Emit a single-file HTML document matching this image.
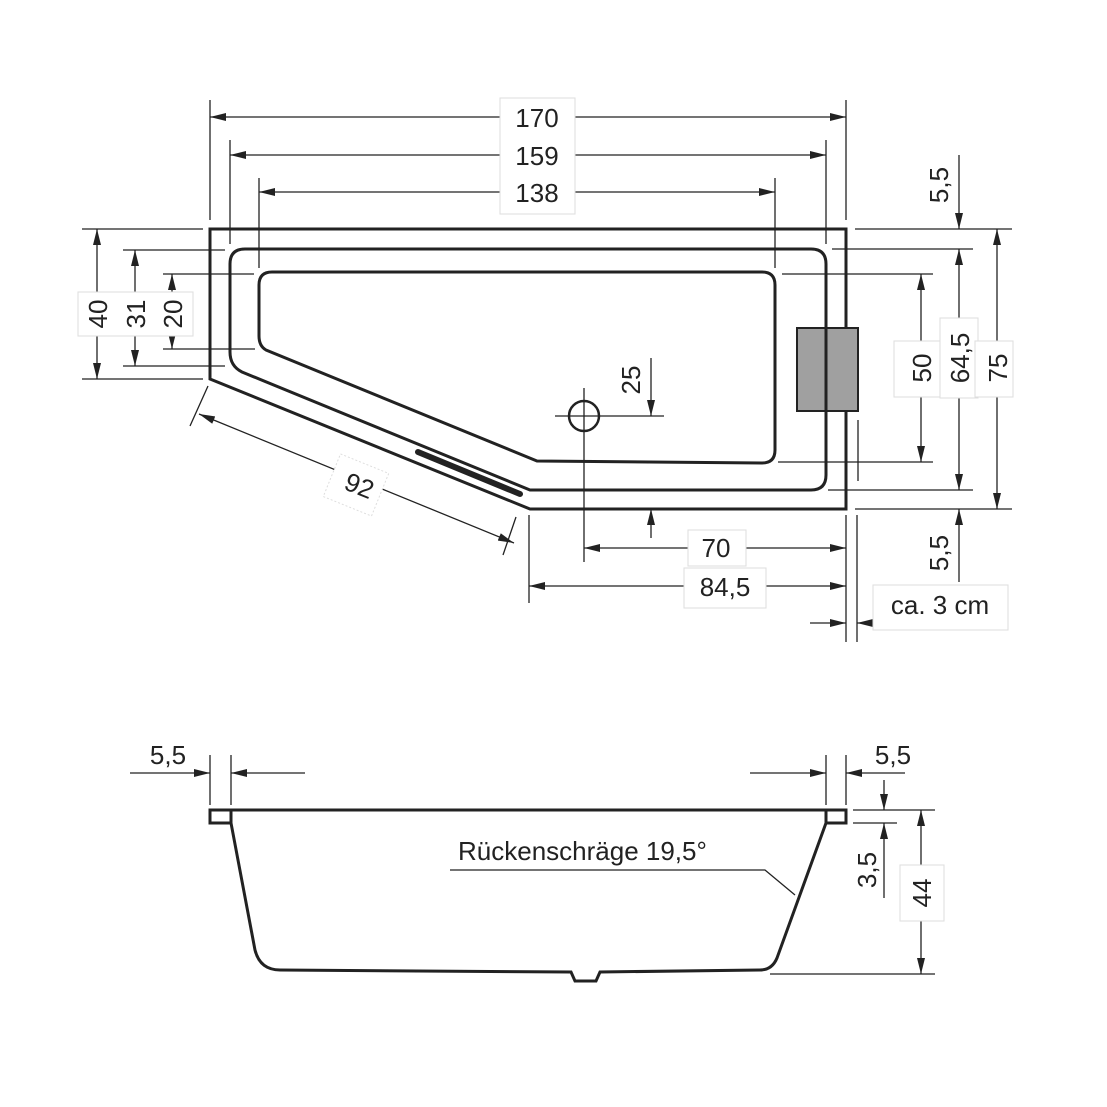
<!DOCTYPE html>
<html><head><meta charset="utf-8"><style>
html,body{margin:0;padding:0;background:#fff;}
svg{display:block;}
text{font-family:"Liberation Sans",sans-serif;font-size:26px;fill:#222;}
</style></head><body>
<svg width="1107" height="1107" viewBox="0 0 1107 1107" xmlns="http://www.w3.org/2000/svg">
<defs>
<marker id="a" viewBox="0 0 16 8" refX="16" refY="4" markerWidth="16" markerHeight="8" markerUnits="userSpaceOnUse" orient="auto"><path d="M0,0 L16,4 L0,8 z" fill="#222"/></marker>
<marker id="b" viewBox="0 0 16 8" refX="0" refY="4" markerWidth="16" markerHeight="8" markerUnits="userSpaceOnUse" orient="auto"><path d="M16,0 L0,4 L16,8 z" fill="#222"/></marker>
</defs>
<g fill="none" stroke="#222">
<!-- top view outlines -->
<path d="M210,229 L846,229 L846,509 L530,509 L210,379 Z" stroke-width="3"/>
<path d="M245,249 L811,249 Q826,249 826,264 L826,475 Q826,490 811,490 L530,490 L242,372 Q230,366 230,352 L230,264 Q230,249 245,249 Z" stroke-width="3"/>
<path d="M272,272 L762,272 Q775,272 775,285 L775,450 Q775,463 762,463 L537,461 L266,350 Q259,346 259,336 L259,285 Q259,272 272,272 Z" stroke-width="3"/>
<line x1="418" y1="452" x2="520" y2="494" stroke-width="6" stroke-linecap="round"/>
<rect x="797" y="328" width="61" height="83" fill="#a0a0a0" stroke-width="2"/>
<line x1="826" y1="328" x2="826" y2="411" stroke-width="3"/>
<circle cx="584" cy="416" r="15" stroke-width="2.5"/>
<line x1="555" y1="416" x2="664" y2="416" stroke-width="1.3"/>
<line x1="584" y1="388" x2="584" y2="562" stroke-width="1.3"/>
<g stroke-width="1.3">
<!-- top ext lines -->
<line x1="210" y1="100" x2="210" y2="220"/><line x1="846" y1="100" x2="846" y2="220"/>
<line x1="230" y1="140" x2="230" y2="244"/><line x1="826" y1="140" x2="826" y2="244"/>
<line x1="259" y1="178" x2="259" y2="268"/><line x1="775" y1="178" x2="775" y2="268"/>
<line x1="210" y1="117" x2="846" y2="117" marker-start="url(#b)" marker-end="url(#a)"/>
<line x1="230" y1="155" x2="826" y2="155" marker-start="url(#b)" marker-end="url(#a)"/>
<line x1="259" y1="192" x2="775" y2="192" marker-start="url(#b)" marker-end="url(#a)"/>
<!-- left -->
<line x1="82" y1="229" x2="203" y2="229"/><line x1="82" y1="379" x2="203" y2="379"/>
<line x1="123" y1="250" x2="225" y2="250"/><line x1="123" y1="366" x2="225" y2="366"/>
<line x1="163" y1="274" x2="254" y2="274"/><line x1="163" y1="349" x2="255" y2="349"/>
<line x1="97" y1="229" x2="97" y2="379" marker-start="url(#b)" marker-end="url(#a)"/>
<line x1="135" y1="250" x2="135" y2="366" marker-start="url(#b)" marker-end="url(#a)"/>
<line x1="172" y1="274" x2="172" y2="349" marker-start="url(#b)" marker-end="url(#a)"/>
<!-- right -->
<line x1="855" y1="229" x2="1012" y2="229"/><line x1="855" y1="509" x2="1012" y2="509"/>
<line x1="832" y1="249" x2="973" y2="249"/><line x1="828" y1="490" x2="973" y2="490"/>
<line x1="782" y1="274" x2="933" y2="274"/><line x1="778" y1="462" x2="933" y2="462"/>
<line x1="858" y1="420" x2="858" y2="481"/>
<line x1="997" y1="229" x2="997" y2="509" marker-start="url(#b)" marker-end="url(#a)"/>
<line x1="959" y1="249" x2="959" y2="490" marker-start="url(#b)" marker-end="url(#a)"/>
<line x1="921" y1="274" x2="921" y2="462" marker-start="url(#b)" marker-end="url(#a)"/>
<line x1="959" y1="155" x2="959" y2="229" marker-end="url(#a)"/>
<line x1="959" y1="582" x2="959" y2="509" marker-end="url(#a)"/>
<!-- 25 -->
<line x1="651" y1="358" x2="651" y2="416" marker-end="url(#a)"/>
<line x1="651" y1="538" x2="651" y2="509" marker-end="url(#a)"/>
<!-- bottom -->
<line x1="529" y1="515" x2="529" y2="603"/>
<line x1="846" y1="515" x2="846" y2="642"/><line x1="857" y1="515" x2="857" y2="642"/>
<line x1="584" y1="548" x2="846" y2="548" marker-start="url(#b)" marker-end="url(#a)"/>
<line x1="529" y1="586" x2="846" y2="586" marker-start="url(#b)" marker-end="url(#a)"/>
<line x1="810" y1="623" x2="846" y2="623" marker-end="url(#a)"/>
<line x1="1004" y1="623" x2="857" y2="623" marker-end="url(#a)"/>
<!-- 92 -->
<line x1="208" y1="386" x2="190" y2="426"/><line x1="516" y1="517" x2="503" y2="555"/>
<line x1="199" y1="414" x2="514" y2="543" marker-start="url(#b)" marker-end="url(#a)"/>
</g>
<!-- side view -->
<path d="M210,810 L846,810 L846,823 L826,823 L777,958 Q772,970 760,970 L600,972 L596,981 L575,981 L571,972 L280,970 Q260,970 255,950 L231,823 L210,823 Z" stroke-width="3"/>
<line x1="231" y1="810" x2="231" y2="823" stroke-width="3"/>
<line x1="826" y1="810" x2="826" y2="823" stroke-width="3"/>
<g stroke-width="1.3">
<line x1="210" y1="755" x2="210" y2="805"/><line x1="231" y1="755" x2="231" y2="805"/>
<line x1="826" y1="755" x2="826" y2="805"/><line x1="846" y1="755" x2="846" y2="805"/>
<line x1="130" y1="773" x2="210" y2="773" marker-end="url(#a)"/>
<line x1="305" y1="773" x2="231" y2="773" marker-end="url(#a)"/>
<line x1="750" y1="773" x2="826" y2="773" marker-end="url(#a)"/>
<line x1="905" y1="773" x2="846" y2="773" marker-end="url(#a)"/>
<line x1="853" y1="810" x2="935" y2="810"/><line x1="853" y1="823" x2="897" y2="823"/>
<line x1="770" y1="974" x2="935" y2="974"/>
<line x1="884" y1="780" x2="884" y2="810" marker-end="url(#a)"/>
<line x1="884" y1="898" x2="884" y2="823" marker-end="url(#a)"/>
<line x1="921" y1="810" x2="921" y2="974" marker-start="url(#b)" marker-end="url(#a)"/>
<polyline points="450,870 765,870 795,895"/>
</g>
</g>
<!-- label backgrounds -->
<g fill="#fff" stroke="#ddd" stroke-width="1">
<rect x="500" y="98" width="75" height="116"/>
<rect x="78" y="292" width="115" height="44"/>
<rect x="894" y="341" width="60" height="56"/>
<rect x="940" y="318" width="38" height="80"/>
<rect x="975" y="341" width="38" height="56"/>
<rect x="688" y="530" width="58" height="36"/>
<rect x="684" y="568" width="82" height="40"/>
<rect x="873" y="585" width="135" height="45"/>
<rect x="900" y="865" width="44" height="56"/>
</g>
<g fill="#fff"><rect x="330" y="462" width="52" height="46" transform="rotate(22 356 485)" stroke="#ddd" stroke-dasharray="2,2"/></g>
<text x="537" y="127" text-anchor="middle">170</text>
<text x="537" y="165" text-anchor="middle">159</text>
<text x="537" y="202" text-anchor="middle">138</text>
<text transform="translate(107,314) rotate(-90)" text-anchor="middle">40</text>
<text transform="translate(145,314) rotate(-90)" text-anchor="middle">31</text>
<text transform="translate(182,314) rotate(-90)" text-anchor="middle">20</text>
<text transform="translate(931,368) rotate(-90)" text-anchor="middle">50</text>
<text transform="translate(969,358) rotate(-90)" text-anchor="middle">64,5</text>
<text transform="translate(1007,368) rotate(-90)" text-anchor="middle">75</text>
<text transform="translate(948,185) rotate(-90)" text-anchor="middle">5,5</text>
<text transform="translate(948,553) rotate(-90)" text-anchor="middle">5,5</text>
<text transform="translate(640,380) rotate(-90)" text-anchor="middle">25</text>
<text x="716" y="557" text-anchor="middle">70</text>
<text x="725" y="596" text-anchor="middle">84,5</text>
<text x="940" y="614" text-anchor="middle">ca. 3 cm</text>
<text transform="translate(356,494) rotate(22)" text-anchor="middle">92</text>
<text x="168" y="764" text-anchor="middle">5,5</text>
<text x="893" y="764" text-anchor="middle">5,5</text>
<text x="458" y="860">Rückenschräge 19,5°</text>
<text transform="translate(876,870) rotate(-90)" text-anchor="middle">3,5</text>
<text transform="translate(931,893) rotate(-90)" text-anchor="middle">44</text>
</svg>
</body></html>
